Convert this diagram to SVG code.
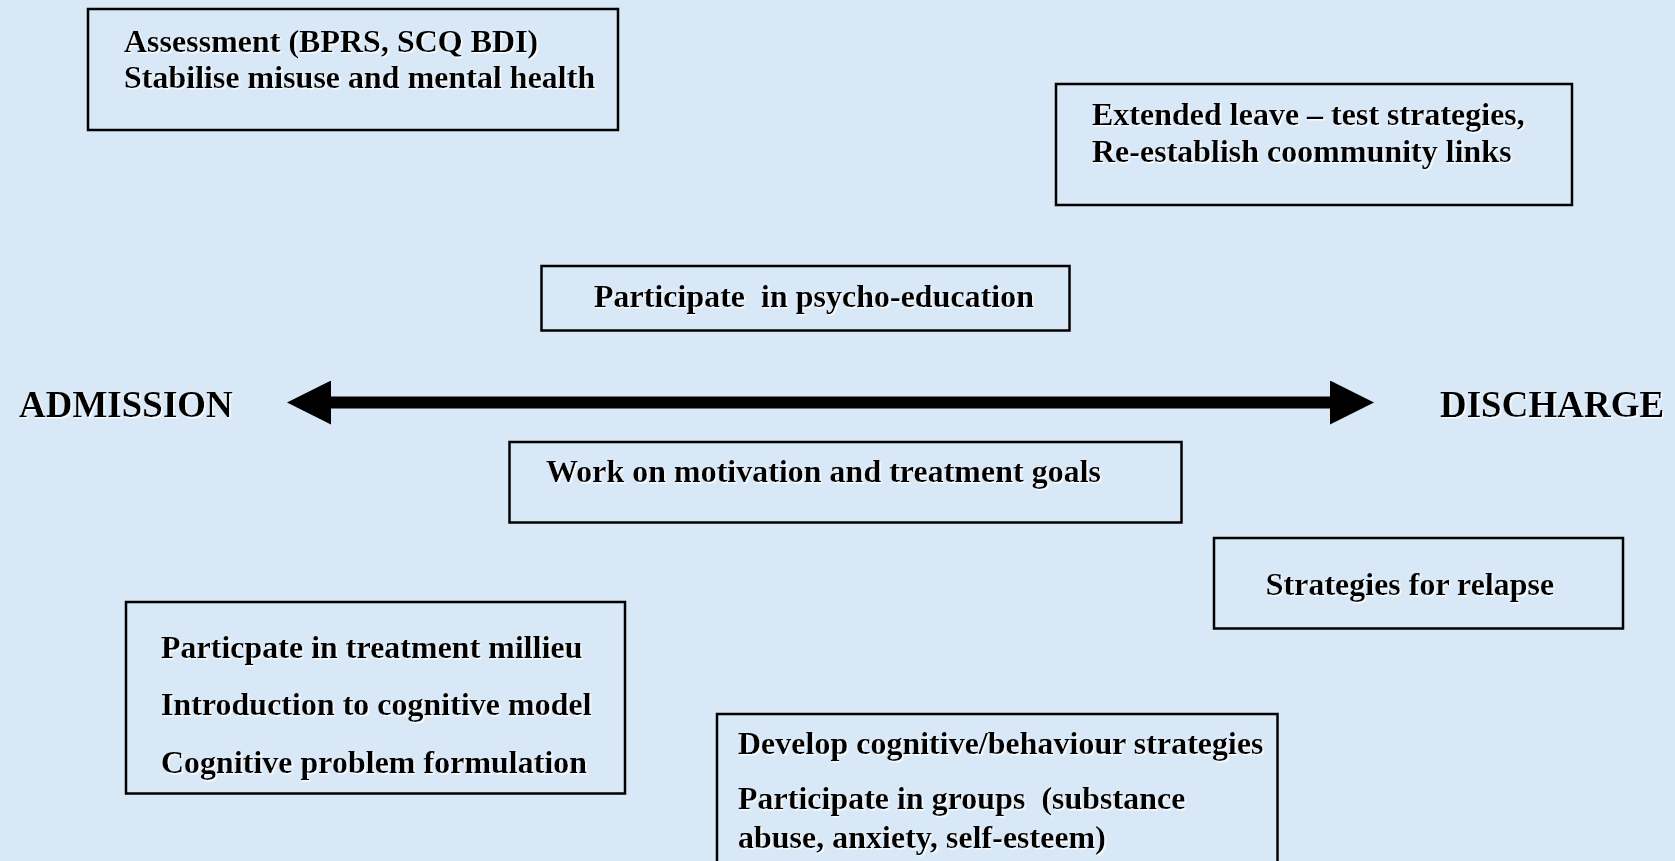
<svg xmlns="http://www.w3.org/2000/svg" width="1675" height="861" viewBox="0 0 1675 861">
  <style>
    .box { fill: none; stroke: #000; stroke-width: 2.5; }
    .t { font-family: "Liberation Serif", "Times New Roman", serif; font-weight: bold; font-size: 32px; fill: #000; filter: url(#sh); }
    .big { font-size: 37px; }
    .conn { stroke: #000; stroke-width: 12; fill: none; }
  </style>
  <defs>
    <filter id="sh" x="-5%" y="-20%" width="110%" height="140%">
      <feDropShadow dx="1.5" dy="1.5" stdDeviation="0.4" flood-color="#ffffff" flood-opacity="0.9"/>
    </filter>
    <marker id="head" markerUnits="userSpaceOnUse" viewBox="0 0 44 44" markerWidth="44" markerHeight="44" refX="0" refY="22" orient="auto-start-reverse">
      <path d="M0,0 L44,22 L0,44 Z" fill="#000"/>
    </marker>
  </defs>
  <rect x="0" y="0" width="1675" height="861" fill="#d9e8f6"/>

  <g id="connectors">
    <line class="conn" x1="331" y1="402.5" x2="1330" y2="402.5" marker-start="url(#head)" marker-end="url(#head)"/>
  </g>

  <g id="admission">
    <text class="t big" x="19" y="417">ADMISSION</text>
  </g>
  <g id="discharge">
    <text class="t big" x="1440" y="417">DISCHARGE</text>
  </g>

  <g id="assessment">
    <rect class="box" x="88" y="9" width="530" height="121"/>
    <text class="t" x="124" y="52">Assessment (BPRS, SCQ BDI)</text>
    <text class="t" x="124" y="88">Stabilise misuse and mental health</text>
  </g>

  <g id="extended-leave">
    <rect class="box" x="1056" y="84" width="516" height="121"/>
    <text class="t" x="1092" y="125">Extended leave – test strategies,</text>
    <text class="t" x="1092" y="162">Re-establish coommunity links</text>
  </g>

  <g id="psycho-education">
    <rect class="box" x="541.5" y="266" width="528" height="64.5"/>
    <text class="t" x="594" y="307" xml:space="preserve">Participate  in psycho-education</text>
  </g>

  <g id="motivation">
    <rect class="box" x="509.5" y="442" width="672" height="80.5"/>
    <text class="t" x="546" y="482">Work on motivation and treatment goals</text>
  </g>

  <g id="relapse">
    <rect class="box" x="1214" y="538" width="409" height="90.5"/>
    <text class="t" x="1410" y="595" text-anchor="middle">Strategies for relapse</text>
  </g>

  <g id="milieu">
    <rect class="box" x="126" y="602" width="499" height="191.5"/>
    <text class="t" x="161" y="658">Particpate in treatment millieu</text>
    <text class="t" x="161" y="715">Introduction to cognitive model</text>
    <text class="t" x="161" y="773">Cognitive problem formulation</text>
  </g>

  <g id="cognitive-strategies">
    <rect class="box" x="717" y="714" width="560.5" height="200"/>
    <text class="t" x="738" y="754">Develop cognitive/behaviour strategies</text>
    <text class="t" x="738" y="809" xml:space="preserve">Participate in groups  (substance</text>
    <text class="t" x="738" y="848">abuse, anxiety, self-esteem)</text>
  </g>
</svg>
